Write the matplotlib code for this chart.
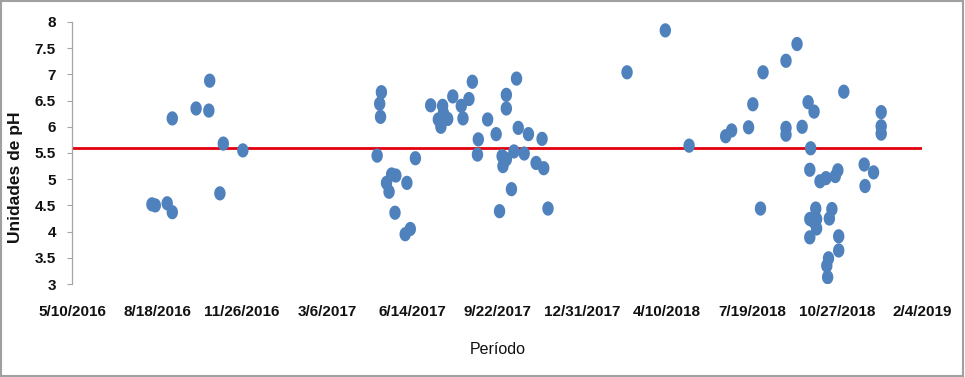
import matplotlib
matplotlib.use("Agg")
import matplotlib.pyplot as plt
from matplotlib.path import Path
from matplotlib.patches import Rectangle
import numpy as np
import pandas as pd

dates = [
    "2016-08-12", "2016-08-16", "2016-08-30", "2016-09-05", "2016-09-05",
    "2016-10-03", "2016-10-18", "2016-10-19", "2016-10-31", "2016-11-04",
    "2016-11-27",
    "2017-05-04", "2017-05-09", "2017-05-07", "2017-05-08", "2017-05-15",
    "2017-05-18", "2017-05-21", "2017-05-26", "2017-05-25", "2017-06-08",
    "2017-06-06", "2017-06-12", "2017-06-18", "2017-07-06", "2017-07-20",
    "2017-07-21", "2017-07-15", "2017-07-18", "2017-07-26", "2017-08-01",
    "2017-08-11", "2017-08-13", "2017-08-20", "2017-08-24", "2017-08-31",
    "2017-08-30", "2017-09-11", "2017-09-21", "2017-09-25", "2017-09-28",
    "2017-09-29", "2017-10-01", "2017-10-03", "2017-10-03", "2017-10-03",
    "2017-10-09", "2017-10-12", "2017-10-15", "2017-10-17", "2017-10-24",
    "2017-10-29", "2017-11-07", "2017-11-14", "2017-11-16", "2017-11-21",
    "2018-02-22", "2018-04-08", "2018-05-06", "2018-06-18", "2018-06-25",
    "2018-07-15", "2018-07-20", "2018-08-01", "2018-07-29", "2018-08-28",
    "2018-08-28", "2018-08-28", "2018-09-10", "2018-09-16", "2018-09-23",
    "2018-09-30", "2018-09-26", "2018-09-25", "2018-10-07", "2018-10-14",
    "2018-10-25", "2018-10-28", "2018-11-04", "2018-10-02", "2018-09-25",
    "2018-09-29", "2018-10-03", "2018-10-03", "2018-09-25", "2018-10-21",
    "2018-10-18", "2018-10-29", "2018-10-29", "2018-10-17", "2018-10-15",
    "2018-10-16", "2018-11-28", "2018-11-29", "2018-12-09", "2018-12-18",
    "2018-12-18", "2018-12-18",
]
ph = [
    4.52, 4.50, 4.54, 4.37, 6.16,
    6.35, 6.31, 6.88, 4.73, 5.68,
    5.55,
    5.45, 6.66, 6.44, 6.19, 4.93,
    4.76, 5.09, 5.07, 4.36, 4.93,
    3.95, 4.05, 5.40, 6.41, 6.40,
    6.26, 6.14, 6.00, 6.15, 6.58,
    6.40, 6.16, 6.53, 6.86, 5.76,
    5.47, 6.14, 5.86, 4.39, 5.44,
    5.25, 5.40, 5.38, 6.61, 6.35,
    4.81, 5.53, 6.92, 5.98, 5.49,
    5.86, 5.31, 5.77, 5.21, 4.44,
    7.04, 7.84, 5.64, 5.82, 5.93,
    5.99, 6.43, 7.04, 4.44, 7.26,
    5.98, 5.85, 7.58, 6.00, 6.47,
    6.29, 5.59, 5.18, 4.96, 5.02,
    5.06, 5.17, 6.67, 4.44, 4.24,
    4.20, 4.06, 4.24, 3.89, 4.43,
    4.25, 3.91, 3.64, 3.49, 3.35,
    3.13, 5.28, 4.87, 5.13, 6.28,
    6.01, 5.87,
]
limit_ph = 5.6
x_ticks = ["2016-05-10", "2016-08-18", "2016-11-26", "2017-03-06", "2017-06-14",
           "2017-09-22", "2017-12-31", "2018-04-10", "2018-07-19", "2018-10-27",
           "2019-02-04"]
y_ticks = [3, 3.5, 4, 4.5, 5, 5.5, 6, 6.5, 7, 7.5, 8]
y_label = "Unidades de pH"
x_label = "Período"

W, H = 965, 377
fig = plt.figure(figsize=(W / 100, H / 100), dpi=100)
ax = fig.add_axes([72 / W, 1 - 284 / H, (922 - 72) / W, (284 - 22) / H])

xd = pd.to_datetime(dates)
xt = pd.to_datetime(x_ticks)

# elliptical marker (slightly taller than wide)
t = np.linspace(0, 2 * np.pi, 60)
ell = Path(np.column_stack([0.8 * np.cos(t), np.sin(t)]), closed=True)

ax.plot([xt[0], xt[-1]], [limit_ph, limit_ph], color="#E3000F", lw=2.0, zorder=2)
ax.scatter(xd, ph, marker=ell, s=105, color="#4F81BD", edgecolors="none", zorder=3)

ax.set_xlim(xt[0], xt[-1])
ax.set_ylim(3, 8)
ax.set_xticks(xt)
ax.set_xticklabels([f"{d.month}/{d.day}/{d.year}" for d in xt])
ax.set_yticks(y_ticks)
ax.set_yticklabels([f"{v:g}" for v in y_ticks])

for lbl in ax.get_xticklabels() + ax.get_yticklabels():
    lbl.set_fontfamily("Liberation Sans")
    lbl.set_fontsize(11)
    lbl.set_fontweight("bold")
    lbl.set_color("#111111")

for s in ["top", "right", "bottom"]:
    ax.spines[s].set_visible(False)
ax.spines["left"].set_color("#A6A6A6")
ax.spines["left"].set_linewidth(0.9)
ax.tick_params(axis="y", length=3.6, color="#A6A6A6", pad=8)
ax.tick_params(axis="x", length=0, pad=15)

fig.text(16 / W, 1 - 177 / H, y_label, rotation=90, ha="center", va="center",
         family="Liberation Sans", weight="bold", size=12.5, color="#111111")
fig.text(498 / W, 1 - 350 / H, x_label, ha="center", va="center",
         family="Liberation Sans", size=11.5, color="#111111")

fig.patches.append(Rectangle((0.001, 0.002), 0.997, 0.995, transform=fig.transFigure,
                             fill=False, edgecolor="#A0A0A0", lw=1.5))

fig.savefig("out.png", dpi=100)
